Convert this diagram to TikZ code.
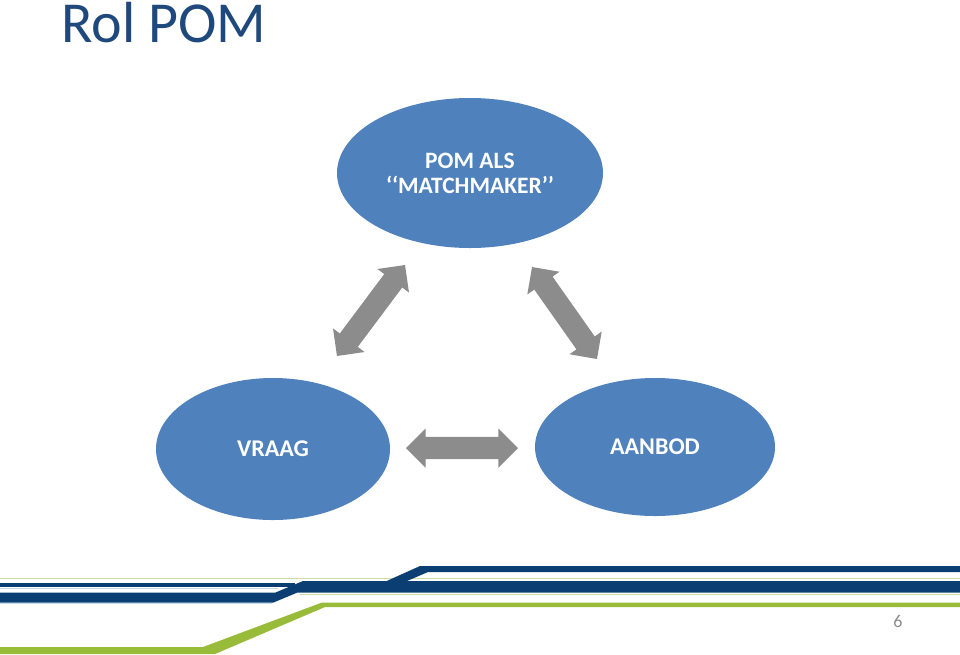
\documentclass[tikz,border=0pt]{standalone}
\usepackage{fontspec}
\setmainfont{Carlito}
\usetikzlibrary{shapes.geometric,shapes.arrows}
\definecolor{ellblue}{RGB}{79,129,189}
\definecolor{titleblue}{RGB}{31,73,125}
\definecolor{arrgray}{RGB}{140,140,140}
\definecolor{navy}{RGB}{11,63,115}
\definecolor{lime}{RGB}{152,188,58}
\definecolor{palegreen}{RGB}{205,220,165}
\definecolor{paleblue}{RGB}{200,215,232}
\definecolor{pagegray}{RGB}{140,140,140}
\begin{document}
\begin{tikzpicture}[x=1pt,y=-1pt,
  bubble/.style={ellipse, fill=ellblue, draw=none, text=white, font=\bfseries\fontsize{23.5}{25}\selectfont, align=center, inner sep=0pt},
  bigbubble/.style={bubble, font=\bfseries\fontsize{24}{28}\selectfont},
  dblarrow/.style={double arrow, fill=arrgray, draw=none, inner xsep=0pt, inner ysep=11pt, double arrow head extend=8.5pt},
  paleline/.style={palegreen, line width=1.4pt}
]
\fill[white] (0,0) rectangle (960,654);
\useasboundingbox (0,0) rectangle (960,654);

% title
\node[anchor=base west, inner sep=0pt, text=titleblue, font=\fontsize{58}{70}\selectfont] (title) at (61,42) {Rol POM};

% ellipses
\node[bubble, minimum width=266pt, minimum height=150pt] (pom) at (470,173) {POM ALS\\‘‘MATCHMAKER’’};
\node[bigbubble, minimum width=234pt, minimum height=142pt] (vraag) at (273,449) {VRAAG};
\node[bigbubble, minimum width=240pt, minimum height=138pt] (aanbod) at (655,447) {AANBOD};

% double arrows
\node[dblarrow, minimum height=113.6pt, rotate=53.2] (a1) at (371,310.5) {};
\node[dblarrow, minimum height=112.6pt, rotate=-54.8] (a2) at (564.5,313) {};
\node[dblarrow, minimum height=112pt] (a3) at (462,448) {};

% footer
\draw[paleline] (0,578.7) -- (960,578.7);
\draw[paleline] (300,594.3) -- (960,594.3);
\draw[paleblue, line width=1pt] (0,588.5) -- (278,588.5);
\draw[paleblue, line width=1pt] (0,603.8) -- (272,603.8);
\fill[lime] (0,647) -- (203,647) -- (322,602.5) -- (960,602.5) -- (960,607) -- (325,607) -- (215,654) -- (0,654) -- cycle;
\fill[navy] (0,582.7) rectangle (295,587);
\fill[navy] (0,592.7) -- (275,592.7) -- (303,581) -- (960,581) -- (960,592.7) -- (297,592.7) -- (273,602.7) -- (0,602.7) -- cycle;
\fill[navy] (380,584) -- (420,566) -- (960,566) -- (960,572) -- (428,572) -- (400,584) -- cycle;

% page number
\node[text=pagegray, font=\fontsize{18}{21}\selectfont, inner sep=0pt] (pg) at (898,621) {6};
\end{tikzpicture}
\end{document}
